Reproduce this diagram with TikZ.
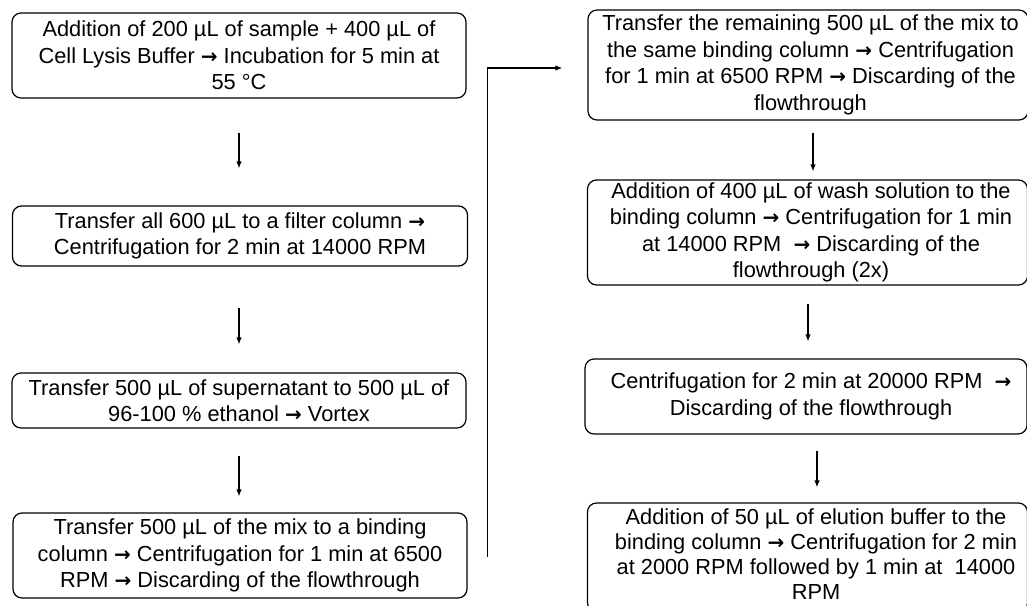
\documentclass[tikz,border=0pt]{standalone}
\usepackage{fontspec}
\setmainfont{Liberation Sans}
\newfontfamily\arrowfont{DejaVu Sans Bold}
\usetikzlibrary{arrows.meta}
\newcommand\boxlines[2]{\parbox{440pt}{\centering #2}\hspace{#1}}
\newcommand\ar{{\arrowfont\fontsize{20}{20}\selectfont →}}
\begin{document}
\begin{tikzpicture}[x=1pt,y=-1pt,
  font=\fontsize{21.8}{26.5}\selectfont,
  stepbox/.style={draw, rounded corners=9pt, line width=1.2pt, inner sep=0pt, align=center},
  flow/.style={-{Latex[length=7pt,width=5.5pt]}, line width=1.2pt}]
\useasboundingbox (0,0) rectangle (1027,605);
\fill[white] (0,0) rectangle (1027,605);
% left column
\node[stepbox, minimum width=454pt, minimum height=85pt] (b1) at (239,55.5)
  {Addition of 200 µL of sample + 400 µL of\\Cell Lysis Buffer \ar{} Incubation for 5 min at\\55 °C};
\node[stepbox, minimum width=455pt, minimum height=60pt] (b2) at (240,236)
  {Transfer all 600 µL to a filter column \ar\\Centrifugation for 2 min at 14000 RPM};
\node[stepbox, minimum width=454pt, minimum height=55pt] (b3) at (239,400.5)
  {Transfer 500 µL of supernatant to 500 µL of\\96-100 \% ethanol \ar{} Vortex};
\node[stepbox, minimum width=454pt, minimum height=85pt] (b4) at (240,555.5)
  {Transfer 500 µL of the mix to a binding\\column \ar{} Centrifugation for 1 min at 6500\\RPM \ar{} Discarding of the flowthrough};
% right column
\node[stepbox, minimum width=440pt, minimum height=110pt] (r1) at (808,65)
  {\boxlines{-5pt}{Transfer the remaining 500 µL of the mix to\\the same binding column \ar{} Centrifugation\\for 1 min at 6500 RPM \ar{} Discarding of the\\flowthrough}};
\node[stepbox, minimum width=440pt, minimum height=105pt] (r2) at (807.5,232.5)
  {\boxlines{-7pt}{Addition of 400 µL of wash solution to the\\binding column \ar{} Centrifugation for 1 min\\at 14000 RPM\ \ \ar{} Discarding of the\\flowthrough (2x)}};
\node[stepbox, minimum width=442pt, minimum height=75pt] (r3) at (806,396.5)
  {\boxlines{-10pt}{Centrifugation for 2 min at 20000 RPM\ \ \ar\\Discarding of the flowthrough}};
\node[stepbox, minimum width=440pt, minimum height=109pt] (r4) at (807.5,557.5)
  {\boxlines{-17pt}{\fontsize{21.8}{25}\selectfont Addition of 50 µL of elution buffer to the\\binding column \ar{} Centrifugation for 2 min\\at 2000 RPM followed by 1 min at\ \ 14000\\RPM\vspace*{7pt}}};
% arrows
\draw[flow, shorten <=34pt, shorten >=37pt] (b1.south) -- (b2.north -| b1.south);
\draw[flow, shorten <=41pt, shorten >=28pt] (b2.south -| b1.south) -- (b3.north);
\draw[flow, shorten <=27pt, shorten >=16pt] (b3.south) -- (b4.north -| b3.south);
\draw[flow, shorten <=12pt, shorten >=8pt] ([xshift=5pt]r1.south) -- ([xshift=5.5pt]r2.north);
\draw[flow, shorten <=18pt, shorten >=17pt] ([xshift=0.5pt]r2.south) -- ([xshift=2pt]r3.north);
\draw[flow, shorten <=16pt, shorten >=15pt] ([xshift=11pt]r3.south) -- ([xshift=9.5pt]r4.north);
\draw[flow, shorten >=25pt] ([xshift=20pt,yshift=-1.5pt]b4.east) |- ([yshift=-3pt]r1.west);
\end{tikzpicture}
\end{document}
